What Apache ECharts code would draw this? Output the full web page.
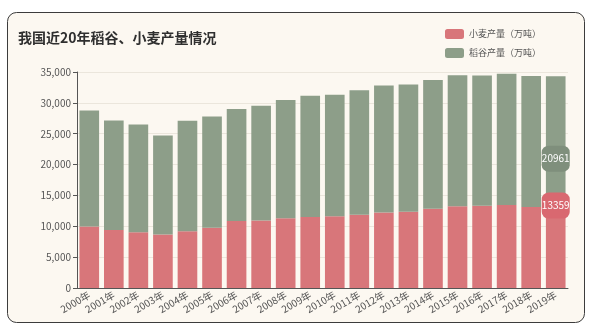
<!DOCTYPE html>
<html>
<head>
<meta charset="utf-8">
<script src="https://cdn.jsdelivr.net/npm/echarts@6/dist/echarts.min.js"></script>
<style>
html,body{margin:0;padding:0;background:#fff;}
#c{width:591px;height:329px;}
</style>
</head>
<body>
<div id="c"></div>
<script>
var years = ['2000年','2001年','2002年','2003年','2004年','2005年','2006年','2007年','2008年','2009年','2010年','2011年','2012年','2013年','2014年','2015年','2016年','2017年','2018年','2019年'];
var wheat = [9964, 9387, 9029, 8649, 9195, 9745, 10847, 10930, 11290, 11512, 11609, 11862, 12247, 12364, 12832, 13256, 13327, 13433, 13144, 13359];
var rice = [18791, 17758, 17454, 16066, 17909, 18059, 18172, 18603, 19190, 19620, 19723, 20200, 20580, 20600, 20860, 21214, 21109, 21268, 21213, 20961];
var yTicks = [0, 5000, 10000, 15000, 20000, 25000, 30000, 35000];
var title = '我国近20年稻谷、小麦产量情况';
var names = ['小麦产量（万吨）', '稻谷产量（万吨）'];

var FONT = '"Noto Sans CJK SC", "Noto Sans", sans-serif';
var RED = '#d8767a', GREEN = '#8d9e89';
var chart = echarts.init(document.getElementById('c'), null, {renderer: 'canvas'});
var last = years.length - 1;
chart.setOption({
  backgroundColor: '#ffffff',
  textStyle: {fontFamily: FONT},
  graphic: [{
    type: 'rect', z: -10, silent: true,
    shape: {x: 7.5, y: 12.5, width: 577, height: 310, r: 9},
    style: {fill: '#fcf8f1', stroke: '#3c3c3c', lineWidth: 1}
  }],
  title: {
    text: title, left: 13, top: 26,
    textStyle: {fontSize: 14, fontWeight: 'bold', color: '#2f2f2f', fontFamily: FONT}
  },
  legend: {
    orient: 'vertical', right: 45, top: 24, itemWidth: 19, itemHeight: 10, itemGap: 9,
    icon: 'roundRect',
    textStyle: {fontSize: 9, color: '#555', fontFamily: FONT},
    data: names
  },
  grid: {left: 77, right: 23, top: 72, bottom: 41},
  xAxis: {
    type: 'category', data: years,
    axisLine: {lineStyle: {color: '#555'}},
    axisTick: {lineStyle: {color: '#555'}, length: 4},
    axisLabel: {rotate: 30, fontSize: 10, color: '#555', margin: 6, interval: 0}
  },
  yAxis: {
    type: 'value', min: 0, max: 35000, interval: 5000,
    axisLine: {show: true, lineStyle: {color: '#555'}},
    axisTick: {show: true, length: 4, lineStyle: {color: '#555'}},
    axisLabel: {fontSize: 10, color: '#555', margin: 6,
      formatter: function (v) { return v.toLocaleString('en-US'); }},
    splitLine: {lineStyle: {color: '#ebe6dc'}}
  },
  series: [{
    name: names[0], type: 'bar', stack: 'a', data: wheat, barWidth: '80%',
    itemStyle: {color: RED},
    markPoint: {
      symbol: 'roundRect', symbolSize: [28, 26],
      itemStyle: {color: '#d96870'},
      label: {color: '#fff', fontSize: 10, fontFamily: FONT},
      data: [{coord: [last, wheat[last]], value: wheat[last]}]
    }
  }, {
    name: names[1], type: 'bar', stack: 'a', data: rice, barWidth: '80%',
    itemStyle: {color: GREEN},
    markPoint: {
      symbol: 'roundRect', symbolSize: [28, 26],
      itemStyle: {color: '#7f8f7c'},
      label: {color: '#fff', fontSize: 10, fontFamily: FONT},
      data: [{coord: [last, rice[last]], value: rice[last]}]
    }
  }]
});
</script>
</body>
</html>
